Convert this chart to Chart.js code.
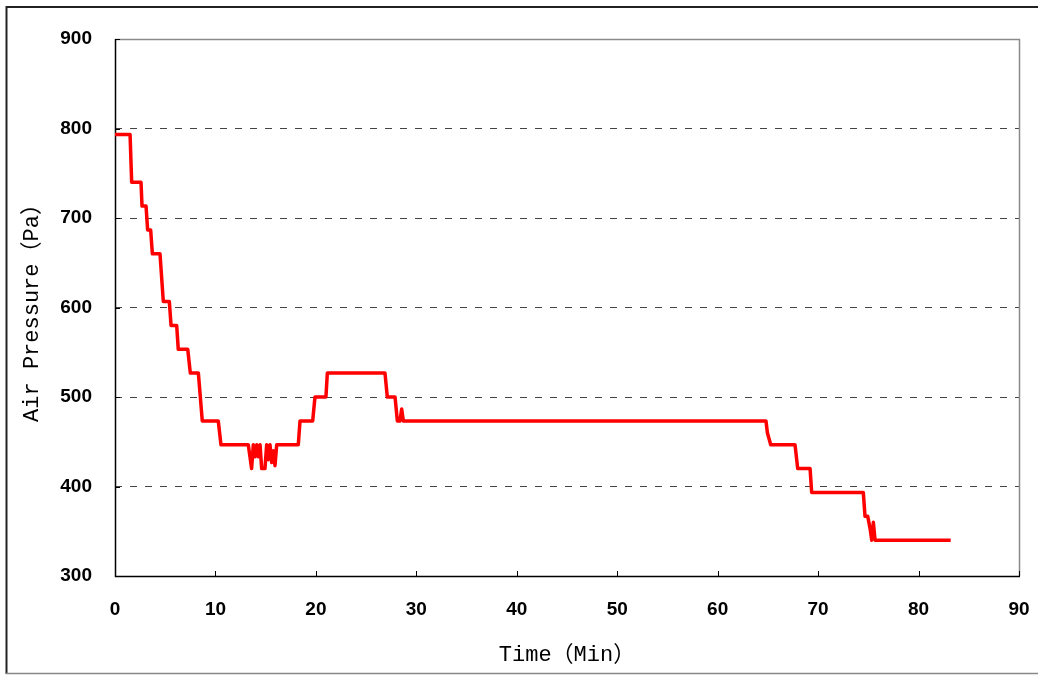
<!DOCTYPE html>
<html>
<head>
<meta charset="utf-8">
<script src="https://cdn.jsdelivr.net/npm/chart.js@4"></script>
<style>
  body { margin: 0; background: #fff; }
  #wrap { width: 1038px; height: 675px; }
</style>
</head>
<body>
<div id="wrap"><canvas id="pressureChart" width="1038" height="675"></canvas></div>
<script>
// time stamps in minutes and the measured air pressure at each one
const timeMin = [
  0, 1.5, 1.66, 2.59, 2.69, 3.09, 3.25, 3.55, 3.72, 4.48, 4.81, 5.41, 5.58, 6.14, 6.3,
  7.24, 7.5, 8.3, 8.69, 10.28, 10.55,
  13.27, 13.6, 13.77, 13.94, 14.11, 14.27, 14.44, 14.6, 14.93, 15.1, 15.26, 15.43, 15.6, 15.76, 15.93, 16.1,
  18.25, 18.42, 19.68, 19.91, 21.0, 21.14, 26.88, 27.11, 27.88, 28.11, 28.37, 28.54, 28.71,
  64.81, 64.95, 65.28, 67.7, 67.97, 69.2, 69.36,
  74.5, 74.67, 74.94, 75.17, 75.34, 75.5, 75.67, 83.2
];
const pressurePa = [
  793.3, 793.3, 740, 740, 713.3, 713.3, 686.7, 686.7, 660, 660, 606.7, 606.7, 580, 580, 553.3,
  553.3, 526.7, 526.7, 473.3, 473.3, 446.7,
  446.7, 420, 446.7, 433.3, 446.7, 433.3, 446.7, 420, 420, 446.7, 430, 446.7, 426.7, 440, 423.3, 446.7,
  446.7, 473.3, 473.3, 500, 500, 526.7, 526.7, 500, 500, 473.3, 473.3, 486.7, 473.3,
  473.3, 460, 446.7, 446.7, 420, 420, 393.3,
  393.3, 366.7, 366.7, 353.3, 340, 360, 340, 340
];
const xTicks = [0, 10, 20, 30, 40, 50, 60, 70, 80, 90];
const yTicks = [300, 400, 500, 600, 700, 800, 900];

const points = timeMin.map((t, i) => ({ x: t, y: pressurePa[i] }));

const titleFont = { family: '"Liberation Mono", "Noto Sans CJK SC", monospace', size: 22 };
const tickFont = { family: '"Liberation Sans", Arial, sans-serif', size: 19, weight: 'bold' };

// white page, outer frame, plot box and inward tick marks
const framePlugin = {
  id: 'frame',
  beforeDraw(chart) {
    const ctx = chart.ctx;
    ctx.save();
    ctx.fillStyle = '#fff';
    ctx.fillRect(0, 0, chart.width, chart.height);
    ctx.restore();
  },
  beforeDatasetsDraw(chart) {
    const ctx = chart.ctx;
    const { left, right, top, bottom } = chart.chartArea;
    const xs = chart.scales.x, ys = chart.scales.y;
    ctx.save();
    ctx.lineWidth = 1.5;
    ctx.strokeStyle = '#8a8a8a';
    ctx.beginPath();
    ctx.moveTo(left, top + 0.5);
    ctx.lineTo(right + 0.5, top + 0.5);
    ctx.lineTo(right + 0.5, bottom);
    ctx.stroke();
    ctx.strokeStyle = '#000';
    ctx.lineWidth = 1.5;
    ctx.beginPath();
    ctx.moveTo(left + 0.5, top);
    ctx.lineTo(left + 0.5, bottom + 0.5);
    ctx.lineTo(right + 1, bottom + 0.5);
    ctx.stroke();
    ctx.lineWidth = 1;
    ctx.beginPath();
    yTicks.forEach(v => {
      const y = Math.round(ys.getPixelForValue(v)) + 0.5;
      ctx.moveTo(left, y);
      ctx.lineTo(left + 5, y);
    });
    xTicks.forEach(v => {
      const x = Math.round(xs.getPixelForValue(v)) + 0.5;
      ctx.moveTo(x, bottom);
      ctx.lineTo(x, bottom - 5);
    });
    ctx.stroke();
    ctx.restore();
  },
  afterDraw(chart) {
    const ctx = chart.ctx;
    ctx.save();
    ctx.lineWidth = 2;
    ctx.strokeStyle = '#222';
    ctx.beginPath();
    ctx.moveTo(6, 7);
    ctx.lineTo(chart.width, 7);
    ctx.moveTo(6.5, 6);
    ctx.lineTo(6.5, 674);
    ctx.stroke();
    ctx.lineWidth = 1.5;
    ctx.strokeStyle = '#888';
    ctx.beginPath();
    ctx.moveTo(6, 673.5);
    ctx.lineTo(chart.width, 673.5);
    ctx.stroke();
    ctx.restore();
  }
};

new Chart(document.getElementById('pressureChart').getContext('2d'), {
  type: 'line',
  data: {
    datasets: [{
      data: points,
      borderColor: '#ff0000',
      borderWidth: 3.5,
      borderJoinStyle: 'round',
      pointRadius: 0,
      fill: false,
      tension: 0
    }]
  },
  options: {
    responsive: false,
    animation: false,
    layout: { padding: { left: 0, top: 39, right: 19, bottom: 0 } },
    plugins: { legend: { display: false }, tooltip: { enabled: false } },
    scales: {
      x: {
        type: 'linear',
        min: 0,
        max: 90,
        afterFit: scale => {
          scale.height = 99;
          scale.paddingLeft = 0;
          scale.paddingRight = 0;
        },
        afterBuildTicks: scale => { scale.ticks = xTicks.map(v => ({ value: v })); },
        grid: { display: false },
        border: { display: false },
        ticks: { color: '#000', font: tickFont, padding: 14, maxRotation: 0 },
        title: {
          display: true,
          text: 'Time（Min）',
          color: '#000',
          font: titleFont,
          padding: { top: 0, bottom: 7 }
        }
      },
      y: {
        min: 300,
        max: 900,
        afterFit: scale => {
          scale.width = 115;
          scale.paddingTop = 0;
          scale.paddingBottom = 0;
        },
        afterBuildTicks: scale => { scale.ticks = yTicks.map(v => ({ value: v })); },
        grid: {
          drawTicks: false,
          color: ctx => (ctx.tick && (ctx.tick.value === 300 || ctx.tick.value === 900)) ? 'rgba(0,0,0,0)' : '#444',
          lineWidth: 1
        },
        border: { display: false, dash: [7, 8] },
        ticks: { color: '#000', font: tickFont, padding: 23 },
        title: {
          display: true,
          text: 'Air Pressure（Pa）',
          color: '#000',
          font: titleFont,
          padding: { top: 19, bottom: 0 }
        }
      }
    }
  },
  plugins: [framePlugin]
});
</script>
</body>
</html>
